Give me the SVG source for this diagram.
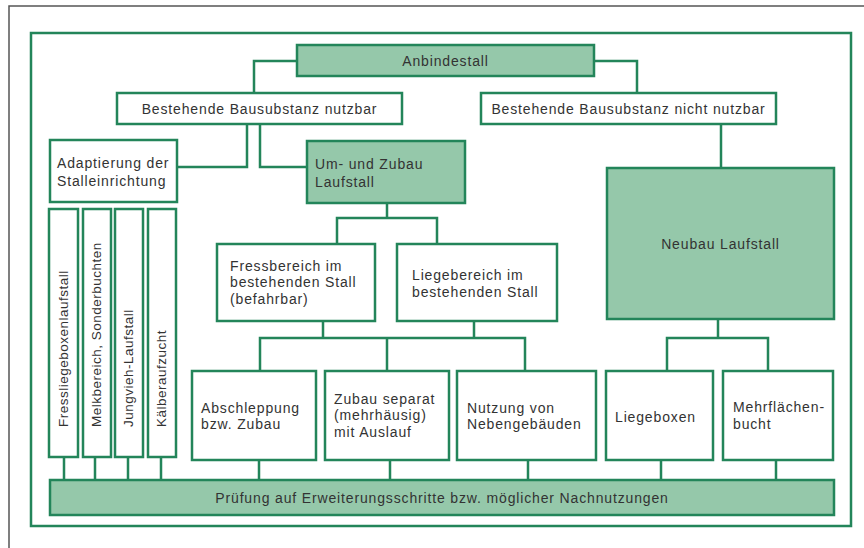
<svg xmlns="http://www.w3.org/2000/svg" width="864" height="548" viewBox="0 0 864 548">
<style>
.b{fill:#ffffff;stroke:#23855a;stroke-width:2.5}
.g{fill:#95c8aa;stroke:#23855a;stroke-width:2.5}
.c{fill:none;stroke:#23855a;stroke-width:2.5}
text{font-family:"Liberation Sans",Arial,sans-serif;font-size:14px;letter-spacing:0.85px;fill:#333333}
.m{text-anchor:middle}
.v{font-size:13.5px;letter-spacing:0.5px}
</style>
<rect x="9" y="6" width="900" height="600" fill="#ffffff" stroke="#555555" stroke-width="1.5"/>
<rect x="31" y="33" width="820" height="493" fill="none" stroke="#23855a" stroke-width="2.5"/>
<g id="connectors" class="c">
<path d="M297 61H254V93"/>
<path d="M594 61H637V93"/>
<path d="M247 124V167H177"/>
<path d="M260 124V167H307"/>
<path d="M721 124V168"/>
<path d="M387 203V218M337 244V218H437V244"/>
<path d="M323 321V338M474 321V338M260 371V338H525V371M387 338V371"/>
<path d="M718 319V338M667 371V338H768V371"/>
<path d="M64 457V480M95 457V480M128 457V480M161 457V480"/>
<path d="M259 460V480M390 460V480M528 460V480M661 460V480M776 460V480"/>
</g>
<g id="anbindestall"><rect class="g" x="297" y="45" width="297" height="31"/><text class="m" x="445.5" y="66">Anbindestall</text></g>
<g id="nutzbar"><rect class="b" x="117" y="93" width="285" height="31"/><text class="m" x="259.5" y="113.5">Bestehende Bausubstanz nutzbar</text></g>
<g id="nicht-nutzbar"><rect class="b" x="481" y="93" width="295" height="31"/><text class="m" x="628.5" y="113.5">Bestehende Bausubstanz nicht nutzbar</text></g>
<g id="adaptierung"><rect class="b" x="50" y="140" width="127" height="62"/><text x="57" y="168">Adaptierung der</text><text x="57" y="186">Stalleinrichtung</text></g>
<g id="umzubau"><rect class="g" x="307" y="141" width="158" height="62"/><text x="315" y="169">Um- und Zubau</text><text x="315" y="187">Laufstall</text></g>
<g id="neubau"><rect class="g" x="607" y="168" width="227" height="151"/><text class="m" x="720.5" y="249">Neubau Laufstall</text></g>
<g id="fressbereich"><rect class="b" x="217" y="244" width="158" height="77"/><text x="230" y="271">Fressbereich im</text><text x="230" y="287">bestehenden Stall</text><text x="230" y="304">(befahrbar)</text></g>
<g id="liegebereich"><rect class="b" x="397" y="244" width="160" height="77"/><text x="412" y="280">Liegebereich im</text><text x="412" y="297">bestehenden Stall</text></g>
<g id="fressliege"><rect class="b" x="49" y="209" width="29" height="248"/><text class="v" transform="translate(67.5 427) rotate(-90)">Fressliegeboxenlaufstall</text></g>
<g id="melkbereich"><rect class="b" x="83" y="209" width="28" height="248"/><text class="v" transform="translate(101 427) rotate(-90)">Melkbereich, Sonderbuchten</text></g>
<g id="jungvieh"><rect class="b" x="115" y="209" width="28" height="248"/><text class="v" transform="translate(133 427) rotate(-90)">Jungvieh-Laufstall</text></g>
<g id="kaelber"><rect class="b" x="148" y="209" width="28" height="248"/><text class="v" transform="translate(166 427) rotate(-90)">Kälberaufzucht</text></g>
<g id="abschleppung"><rect class="b" x="192" y="371" width="124" height="89"/><text x="201" y="413">Abschleppung</text><text x="201" y="429">bzw. Zubau</text></g>
<g id="zubau-separat"><rect class="b" x="325" y="371" width="124" height="89"/><text x="334" y="404">Zubau separat</text><text x="334" y="420">(mehrhäusig)</text><text x="334" y="437">mit Auslauf</text></g>
<g id="nutzung"><rect class="b" x="457" y="371" width="139" height="89"/><text x="467" y="413">Nutzung von</text><text x="467" y="429">Nebengebäuden</text></g>
<g id="liegeboxen"><rect class="b" x="606" y="371" width="107" height="89"/><text x="615" y="422">Liegeboxen</text></g>
<g id="mehrflaechen"><rect class="b" x="723" y="371" width="110" height="89"/><text x="733" y="412">Mehrflächen-</text><text x="733" y="429">bucht</text></g>
<g id="pruefung"><rect class="g" x="50" y="480" width="784" height="35"/><text class="m" x="442" y="502.5">Prüfung auf Erweiterungsschritte bzw. möglicher Nachnutzungen</text></g>
</svg>
